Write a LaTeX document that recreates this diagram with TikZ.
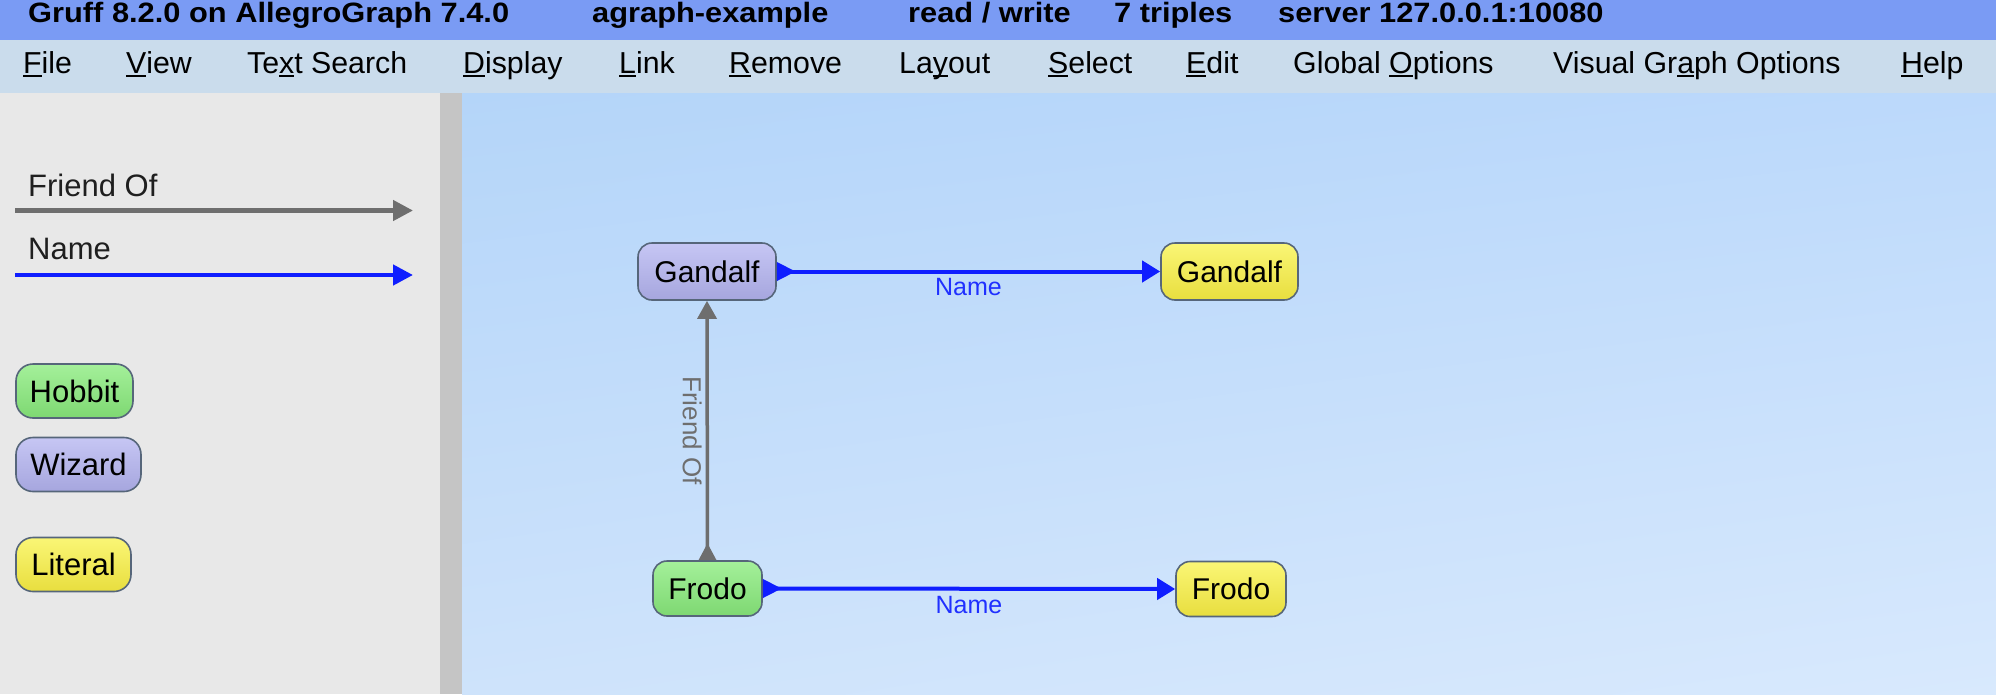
\documentclass[tikz,border=0pt]{standalone}
\usepackage{fontspec}
\setmainfont{Liberation Sans}
\usetikzlibrary{arrows.meta,calc,shadings}
\definecolor{titlebar}{HTML}{7A9BF4}
\definecolor{menubar}{HTML}{CADCEC}
\definecolor{sidebar}{HTML}{E8E8E8}
\definecolor{divider}{HTML}{C5C5C5}
\definecolor{gA}{HTML}{B4D5F9}
\definecolor{gB}{HTML}{BCD9FB}
\definecolor{gC}{HTML}{CEE3FB}
\definecolor{gD}{HTML}{D8E9FD}
\definecolor{nameblue}{HTML}{0F1EFF}
\definecolor{namelbl}{HTML}{2030FF}
\definecolor{friendgray}{HTML}{6E6E6E}
\definecolor{nodeborder}{HTML}{56667A}
\definecolor{wizT}{HTML}{C6C6F4}
\definecolor{wizB}{HTML}{A6A6DE}
\definecolor{hobT}{HTML}{A4F09A}
\definecolor{hobB}{HTML}{7ED872}
\definecolor{litT}{HTML}{FAF676}
\definecolor{litB}{HTML}{E8DE3E}
\newcommand\myfs[1]{\fontsize{#1}{#1}\selectfont}
\newcommand\mnu[1]{\setbox0\hbox{#1}\rlap{\rule[-4pt]{\wd0}{2pt}}\box0}
\newcommand\ttl[1]{\scalebox{1.1}[1]{#1}}
\begin{document}
\begin{tikzpicture}[x=1pt,y=-1pt,
  ttlstyle/.style={anchor=base west,inner sep=0pt,font=\myfs{28}\bfseries,text=black},
  menustyle/.style={anchor=base west,inner sep=0pt,font=\myfs{30.3},text=black},
  legtext/.style={anchor=base west,inner sep=0pt,font=\myfs{31},text=black!88},
  nodebase/.style={rounded corners=14pt,draw=nodeborder,line width=1.6pt,inner sep=0pt,
    font=\myfs{30},text=black,minimum height=56pt},
  legbase/.style={nodebase,font=\myfs{31},minimum height=54pt,rounded corners=17pt},
  wiz/.style={top color=wizT,bottom color=wizB},
  hob/.style={top color=hobT,bottom color=hobB},
  lit/.style={top color=litT,bottom color=litB},
  namearrow/.style={draw=nameblue,line width=4pt,
    arrows={Triangle[reversed,length=19pt,width=18pt]-Triangle[length=18pt,width=21pt]}},
  friendarrow/.style={draw=friendgray,line width=3.5pt,
    arrows={Triangle[reversed,length=17pt,width=17pt]-Triangle[length=18pt,width=19pt]}},
  legarrow/.style={line width=4.5pt,-{Triangle[length=20pt,width=20pt]}},
  lblname/.style={font=\myfs{25},text=namelbl,inner sep=0pt},
  lblfriend/.style={font=\myfs{26},text=friendgray,inner sep=0pt,rotate=-90}
]
\useasboundingbox (0,0) rectangle (1996,694);
% bars and panels
\fill[titlebar] (0,0) rectangle (1996,40);
\fill[menubar] (0,40) rectangle (1996,93);
\fill[sidebar] (0,93) rectangle (440,694);
\fill[divider] (440,93) rectangle (462,694);
\shade[upper left=gA,upper right=gB,lower left=gC,lower right=gD] (462,93) rectangle (1996,694);
% title texts
\node[ttlstyle] (t1) at (28,22) {\ttl{Gruff 8.2.0 on AllegroGraph 7.4.0}};
\node[ttlstyle] (t2) at (592,22) {\ttl{agraph-example}};
\node[ttlstyle] (t3) at (908,22) {\ttl{read / write}};
\node[ttlstyle] (t4) at (1114,22) {\ttl{7 triples}};
\node[ttlstyle] (t5) at (1278,22) {\ttl{server 127.0.0.1:10080}};
% menu
\node[menustyle] (m1) at (23,73) {\mnu{F}ile};
\node[menustyle] (m2) at (126,73) {\mnu{V}iew};
\node[menustyle] (m3) at (247,73) {Te\mnu{x}t Search};
\node[menustyle] (m4) at (463,73) {\mnu{D}isplay};
\node[menustyle] (m5) at (619,73) {\mnu{L}ink};
\node[menustyle] (m6) at (729,73) {\mnu{R}emove};
\node[menustyle] (m7) at (899,73) {La\mnu{y}out};
\node[menustyle] (m8) at (1048,73) {\mnu{S}elect};
\node[menustyle] (m9) at (1186,73) {\mnu{E}dit};
\node[menustyle] (m10) at (1293,73) {Global \mnu{O}ptions};
\node[menustyle] (m11) at (1553,73) {Visual Gr\mnu{a}ph Options};
\node[menustyle] (m12) at (1901,73) {\mnu{H}elp};
% legend
\node[legtext] (lf) at (28,196) {Friend Of};
\coordinate (lfa) at (15,210.5);
\coordinate (lfb) at (413,210.5);
\draw[legarrow,draw=friendgray,fill=friendgray] (lfa) -- (lfb);
\node[legtext] (ln) at (28,259.5) {Name};
\coordinate (lna) at (15,275);
\coordinate (lnb) at (413,275);
\draw[legarrow,draw=nameblue,fill=nameblue] (lna) -- (lnb);
\node[legbase,hob,minimum width=117pt] (lh) at (74.5,391) {Hobbit};
\node[legbase,wiz,minimum width=125pt] (lw) at (78.5,464.5) {Wizard};
\node[legbase,lit,minimum width=115pt] (ll) at (73.5,564.5) {Literal};
% graph nodes
\node[nodebase,wiz,minimum width=138pt,minimum height=57pt] (gw) at (707,271.5) {Gandalf};
\node[nodebase,lit,minimum width=137pt,minimum height=57pt] (gl) at (1229.5,271.5) {Gandalf};
\node[nodebase,hob,minimum width=109pt,minimum height=55pt] (fh) at (707.5,588.5) {Frodo};
\node[nodebase,lit,minimum width=110pt,minimum height=55pt] (fl) at (1231,589) {Frodo};
% edges
\draw[namearrow] (gw.east) -- (gl.west) node[lblname,midway,yshift=-16pt] (n1) {Name};
\draw[namearrow] (fh.east) -- (fl.west) node[lblname,midway,yshift=-16pt] (n2) {Name};
\draw[friendarrow] (fh.north) -- (gw.south);
\node[lblfriend] (fo) at ($(fh.north)!0.5!(gw.south)+(-15,0)$) {Friend Of};
\end{tikzpicture}
\end{document}
